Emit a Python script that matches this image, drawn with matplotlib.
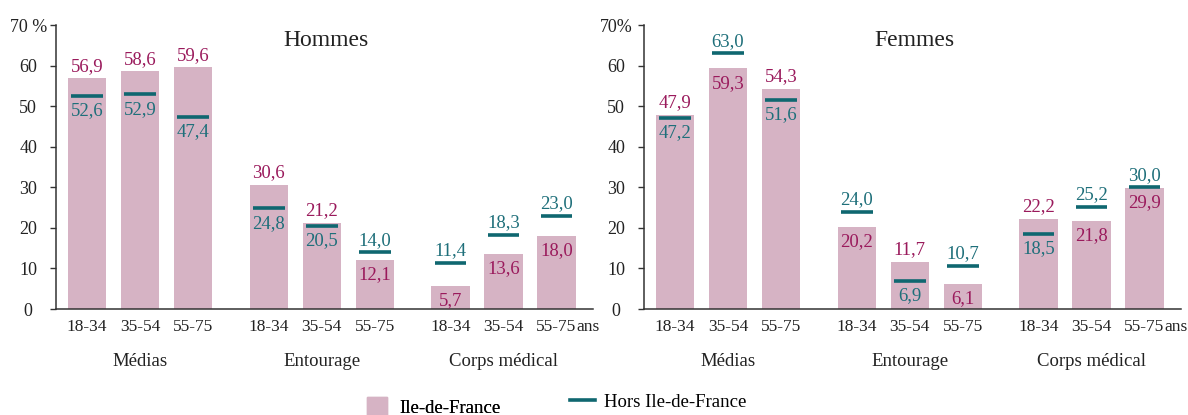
import numpy as np
import matplotlib
matplotlib.use("Agg")
import matplotlib.pyplot as plt
from matplotlib.patches import Patch
from matplotlib.lines import Line2D

# --- Data ---
AGE_LABELS = ['18-34', '35-54', '55-75'] * 3
GROUPS = ['Médias', 'Entourage', 'Corps médical']
PANELS = ['Hommes', 'Femmes']

hommes_idf = [56.9, 58.6, 59.6, 30.6, 21.2, 12.1, 5.7, 13.6, 18.0]
hommes_hors = [52.6, 52.9, 47.4, 24.8, 20.5, 14.0, 11.4, 18.3, 23.0]
femmes_idf = [47.9, 59.3, 54.3, 20.2, 11.7, 6.1, 22.2, 21.8, 29.9]
femmes_hors = [47.2, 63.0, 51.6, 24.0, 6.9, 10.7, 18.5, 25.2, 30.0]

# --- Style ---
BAR_COLOR = '#D6B3C4'
LINE_COLOR = '#0F6770'
IDF_TEXT = '#9A1A5C'
HORS_TEXT = '#1E6F7A'
AXIS_COLOR = '#333333'
TXT = '#222222'
FS = 13.5
TICK_FS = 12.5

plt.rcParams['font.family'] = ['Liberation Serif', 'DejaVu Serif']

GROUP_STEP = 3.43
xs = np.array([g * GROUP_STEP + i for g in range(3) for i in range(3)])


def fmt(v):
    return f"{v:.1f}".replace('.', ',')


def draw_panel(ax, title, idf, hors, pct_label):
    ax.bar(xs, idf, width=0.72, color=BAR_COLOR, zorder=1)
    ax.hlines(hors, xs - 0.3, xs + 0.3, color=LINE_COLOR, lw=2.6, zorder=2)

    # higher value labelled above its mark, lower value labelled below its mark
    for x, a, b in zip(xs, idf, hors):
        if a >= b:
            top_v, top_c, bot_v, bot_c = a, IDF_TEXT, b, HORS_TEXT
        else:
            top_v, top_c, bot_v, bot_c = b, HORS_TEXT, a, IDF_TEXT
        ax.annotate(fmt(top_v), (x, top_v), xytext=(0, 2.5), textcoords='offset points',
                    ha='center', va='bottom', color=top_c, fontsize=13.5)
        ax.annotate(fmt(bot_v), (x, bot_v), xytext=(0, -4.5), textcoords='offset points',
                    ha='center', va='top', color=bot_c, fontsize=13.5)

    ax.set_xlim(-0.585, 9.55)
    ax.set_ylim(0, 70)
    ax.set_yticks(range(0, 71, 10))
    ax.set_yticklabels([str(v) for v in range(0, 70, 10)] + [pct_label])
    for lbl in ax.get_yticklabels():
        lbl.set_horizontalalignment('center')
    ax.tick_params(axis='y', direction='out', length=4, width=1.0, pad=16,
                   labelsize=13, colors=AXIS_COLOR, labelcolor=TXT)
    ax.set_xticks(xs)
    ax.set_xticklabels(AGE_LABELS)
    ax.tick_params(axis='x', length=0, pad=7, labelsize=TICK_FS, labelcolor=TXT)

    for s in ['top', 'right']:
        ax.spines[s].set_visible(False)
    for s in ['left', 'bottom']:
        ax.spines[s].set_color(AXIS_COLOR)
        ax.spines[s].set_linewidth(1.1)

    # "ans" after the last age tick
    ax.annotate('ans', (xs[-1], 0), xycoords=('data', 'axes fraction'),
                xytext=(14.5, -7), textcoords='offset points',
                ha='left', va='top', fontsize=TICK_FS, color=TXT)

    for g, name in enumerate(GROUPS):
        ax.annotate(name, (xs[g * 3 + 1], 0), xycoords=('data', 'axes fraction'),
                    xytext=(0, -38), textcoords='offset points',
                    ha='center', va='center', fontsize=FS, color=TXT)

    ax.text(0.503, 0.944, title, transform=ax.transAxes, ha='center', va='center',
            fontsize=17, color=TXT)


fig = plt.figure(figsize=(11.88, 4.15), dpi=100)
ax1 = fig.add_axes([56 / 1188, 106 / 415, 537 / 1188, 284 / 415])
ax2 = fig.add_axes([644 / 1188, 106 / 415, 537 / 1188, 284 / 415])

draw_panel(ax1, PANELS[0], hommes_idf, hommes_hors, '70 %')
draw_panel(ax2, PANELS[1], femmes_idf, femmes_hors, '70%')

leg1 = fig.legend(handles=[Patch(color=BAR_COLOR, label='Ile-de-France')],
                  loc='center left', bbox_to_anchor=(367 / 1188, 1 - 407 / 415),
                  frameon=False, fontsize=FS, borderpad=0, borderaxespad=0,
                  handlelength=1.05, handleheight=1.05, handletextpad=0.65)
leg2 = fig.legend(handles=[Line2D([], [], color=LINE_COLOR, lw=2.6, label='Hors Ile-de-France')],
                  loc='center left', bbox_to_anchor=(570 / 1188, 1 - 402 / 415),
                  frameon=False, fontsize=FS, borderpad=0, borderaxespad=0,
                  handlelength=1.35, handletextpad=0.45)
fig.add_artist(leg1)

fig.savefig('out.png', dpi=100)
